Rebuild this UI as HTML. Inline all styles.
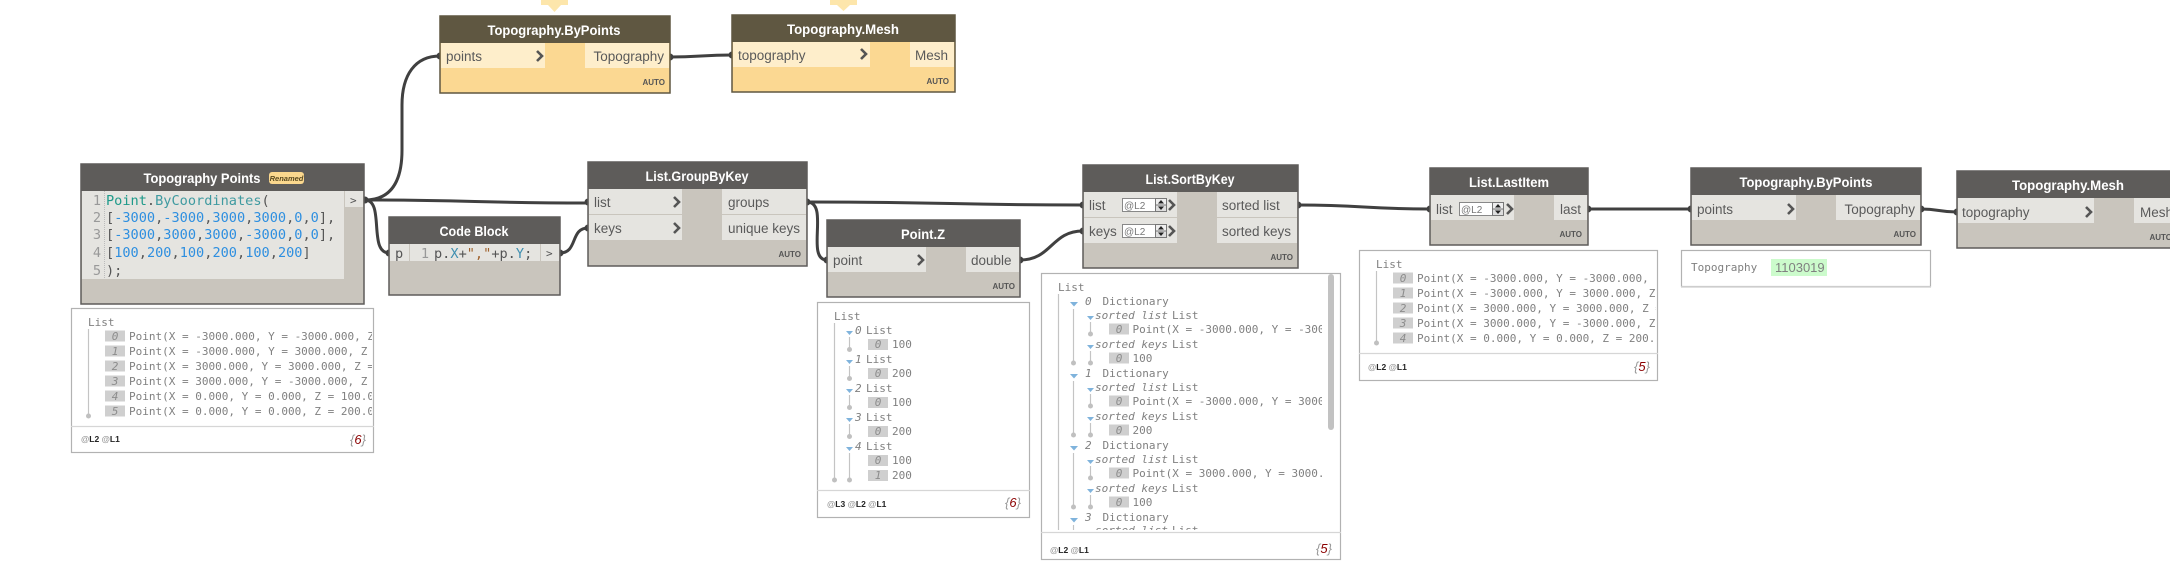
<!DOCTYPE html>
<html>
<head>
<meta charset="utf-8">
<style>
html,body{margin:0;padding:0;background:#fff;width:2170px;height:588px;overflow:hidden}
svg{display:block}
text{white-space:pre}
.t{font:bold 14px "Liberation Sans",sans-serif;fill:#fff;text-anchor:middle}
.p{font:13.5px "Liberation Sans",sans-serif;fill:#5a5a5a}
.a{font:bold 8px "Liberation Sans",sans-serif;fill:#555;text-anchor:end}
.c{font:13.6px "DejaVu Sans Mono",monospace;fill:#555}
.ln{font:13.6px "DejaVu Sans Mono",monospace;fill:#999;text-anchor:end}
.m{font:11px "DejaVu Sans Mono",monospace;fill:#808080}
.i{font:italic 11px "DejaVu Sans Mono",monospace;fill:#8c8c8c;text-anchor:middle}
.si{font:italic 11px "DejaVu Sans Mono",monospace;fill:#808080}
.l{font:bold 8.5px "Liberation Sans",sans-serif;fill:#222}
.l tspan{fill:#999}
.n{font:italic 13px "Liberation Sans",sans-serif;fill:#999}
.n tspan{fill:#8b0000}
.b{fill:#cfcfcf}
.w{fill:none;stroke:#404040;stroke-width:3}
.ch{fill:none;stroke:#555;stroke-width:2.6}
.pv{fill:#fff;stroke:#b2b2b2;stroke-width:1.2}
.dv{stroke:#d6d6d6;stroke-width:1.2}
.tl{stroke:#c4c4c4;stroke-width:1.2}
.d{fill:#c0c0c0}
.tr{fill:#7fb3dc}
.body{fill:#c9c5bd;stroke:#5e5c5a;stroke-width:1.5}
.hd{fill:#5e5c5a}
.row{fill:#e5e4e0}
.ybody{fill:#fbd892;stroke:#5f5741;stroke-width:1.5}
.yhd{fill:#5f5741}
.yrow{fill:#feeecb}
.port{fill:#404040}
.sp{font:10px "Liberation Sans",sans-serif;fill:#777}
</style>
</head>
<body>
<svg width="2170" height="588" viewBox="0 0 2170 588" xmlns="http://www.w3.org/2000/svg">
<defs>
<clipPath id="c1"><rect x="72" y="309" width="300" height="116"/></clipPath>
<clipPath id="c2"><rect x="1042" y="274" width="280" height="256"/></clipPath>
<clipPath id="c3"><rect x="1360" y="251" width="296" height="101"/></clipPath>
</defs>

<!-- warning tips -->
<polygon points="541,0 568,0 568,5 561,5 554.500,12 548,5 541,5" fill="#fde6ab"/>
<polygon points="830,0 857,0 857,5 850,5 843.500,11 837,5 830,5" fill="#fde6ab"/>

<!-- wires -->
<path class="w" d="M365 200C392 200 402 180 402 150L402 105C402 75 415 56 440 56"/>
<path class="w" d="M365 200C470 200 480 203 588 203"/>
<path class="w" d="M365 200C385 200 368 253 389 253"/>
<path class="w" d="M560 253C578 253 570 228 588 228"/>
<path class="w" d="M670 57C700 57 702 55 732 55"/>
<path class="w" d="M807 202C950 202 950 205 1083 205"/>
<path class="w" d="M807 202C830 202 805 260 827 260"/>
<path class="w" d="M1020 260C1052 260 1051 231 1083 231"/>
<path class="w" d="M1298 205C1364 205 1364 209 1430 209"/>
<path class="w" d="M1588 209H1691"/>
<path class="w" d="M1921 209C1939 209 1939 212 1957 212"/>

<!-- ports -->
<g class="port">
<circle cx="365" cy="200" r="3.5"/><circle cx="389" cy="253" r="3.5"/><circle cx="560" cy="253" r="3.5"/>
<circle cx="440" cy="56" r="3.5"/><circle cx="670" cy="57" r="3.5"/><circle cx="732" cy="55" r="3.5"/>
<circle cx="588" cy="202" r="3.5"/><circle cx="588" cy="228" r="3.5"/><circle cx="807" cy="202" r="3.5"/>
<circle cx="827" cy="260" r="3.5"/><circle cx="1020" cy="260" r="3.5"/>
<circle cx="1083" cy="205" r="3.5"/><circle cx="1083" cy="231" r="3.5"/><circle cx="1298" cy="205" r="3.5"/>
<circle cx="1430" cy="209" r="3.5"/><circle cx="1588" cy="209" r="3.5"/><circle cx="1691" cy="209" r="3.5"/>
<circle cx="1921" cy="209" r="3.5"/><circle cx="1957" cy="212" r="3.5"/>
</g>

<!-- Topography.ByPoints yellow -->
<rect class="ybody" x="440" y="16" width="230" height="77"/>
<rect class="yhd" x="440" y="16" width="230" height="27"/>
<rect class="yrow" x="441" y="43" width="104" height="25"/>
<rect class="yrow" x="585" y="43" width="84" height="25"/>
<text class="t" x="554" y="35" textLength="133" lengthAdjust="spacingAndGlyphs">Topography.ByPoints</text>
<text class="p" x="446" y="61">points</text>
<polyline class="ch" points="537,51 542,56 537,61"/>
<text class="p" x="664" y="61" text-anchor="end">Topography</text>
<text class="a" x="665" y="85">AUTO</text>

<!-- Topography.Mesh yellow -->
<rect class="ybody" x="732" y="15" width="223" height="77"/>
<rect class="yhd" x="732" y="15" width="223" height="27"/>
<rect class="yrow" x="733" y="42" width="137" height="25"/>
<rect class="yrow" x="910" y="42" width="44" height="25"/>
<text class="t" x="843" y="34" textLength="112" lengthAdjust="spacingAndGlyphs">Topography.Mesh</text>
<text class="p" x="738" y="60">topography</text>
<polyline class="ch" points="861,49 866,54 861,59"/>
<text class="p" x="948" y="60" text-anchor="end">Mesh</text>
<text class="a" x="949" y="84">AUTO</text>

<!-- Topography Points -->
<rect class="body" x="81" y="164" width="283" height="140"/>
<rect class="hd" x="81" y="164" width="283" height="27"/>
<rect class="row" x="82" y="191" width="262" height="88"/>
<rect class="row" x="345" y="191" width="18" height="16"/>
<line x1="104.500" y1="191" x2="104.500" y2="279" stroke="#bbb" stroke-dasharray="1 1"/>
<text class="t" x="202" y="183" textLength="117" lengthAdjust="spacingAndGlyphs">Topography Points</text>
<rect x="269" y="172" width="35" height="12" rx="3" fill="#fbd88e"/>
<text x="286.500" y="181" text-anchor="middle" font-family="Liberation Sans,sans-serif" font-size="7.5" font-weight="bold" font-style="italic" fill="#5a4a20">Renamed</text>
<text class="ln" x="101" y="205">1</text><text class="ln" x="101" y="222">2</text><text class="ln" x="101" y="239">3</text><text class="ln" x="101" y="257">4</text><text class="ln" x="101" y="275">5</text>
<text class="c" x="106" y="205"><tspan fill="#1f9a8a">Point</tspan>.<tspan fill="#3f9aa0">ByCoordinates</tspan>(</text>
<text class="c" x="106" y="222">[<tspan fill="#2e8fe0">-3000</tspan>,<tspan fill="#2e8fe0">-3000</tspan>,<tspan fill="#2e8fe0">3000</tspan>,<tspan fill="#2e8fe0">3000</tspan>,<tspan fill="#2e8fe0">0</tspan>,<tspan fill="#2e8fe0">0</tspan>],</text>
<text class="c" x="106" y="239">[<tspan fill="#2e8fe0">-3000</tspan>,<tspan fill="#2e8fe0">3000</tspan>,<tspan fill="#2e8fe0">3000</tspan>,<tspan fill="#2e8fe0">-3000</tspan>,<tspan fill="#2e8fe0">0</tspan>,<tspan fill="#2e8fe0">0</tspan>],</text>
<text class="c" x="106" y="257">[<tspan fill="#2e8fe0">100</tspan>,<tspan fill="#2e8fe0">200</tspan>,<tspan fill="#2e8fe0">100</tspan>,<tspan fill="#2e8fe0">200</tspan>,<tspan fill="#2e8fe0">100</tspan>,<tspan fill="#2e8fe0">200</tspan>]</text>
<text class="c" x="106" y="275">);</text>
<text class="c" x="350" y="204" style="font-size:11px">&gt;</text>

<!-- Preview 1 -->
<rect class="pv" x="71.500" y="308.500" width="302" height="144"/>
<line class="dv" x1="71" y1="426.500" x2="374" y2="426.500"/>
<text class="m" x="88" y="326">List</text>
<line class="tl" x1="88.500" y1="329" x2="88.500" y2="416"/><circle class="d" cx="88.500" cy="416" r="2.500"/>
<g clip-path="url(#c1)">
<rect class="b" x="105" y="330.500" width="20" height="11"/><text class="i" x="115" y="340">0</text><text class="m" x="129" y="340">Point(X = -3000.000, Y = -3000.000, Z = 100.000)</text>
<rect class="b" x="105" y="345.500" width="20" height="11"/><text class="i" x="115" y="355">1</text><text class="m" x="129" y="355">Point(X = -3000.000, Y = 3000.000, Z = 200.000)</text>
<rect class="b" x="105" y="360.500" width="20" height="11"/><text class="i" x="115" y="370">2</text><text class="m" x="129" y="370">Point(X = 3000.000, Y = 3000.000, Z = 100.000)</text>
<rect class="b" x="105" y="375.500" width="20" height="11"/><text class="i" x="115" y="385">3</text><text class="m" x="129" y="385">Point(X = 3000.000, Y = -3000.000, Z = 200.000)</text>
<rect class="b" x="105" y="390.500" width="20" height="11"/><text class="i" x="115" y="400">4</text><text class="m" x="129" y="400">Point(X = 0.000, Y = 0.000, Z = 100.000)</text>
<rect class="b" x="105" y="405.500" width="20" height="11"/><text class="i" x="115" y="415">5</text><text class="m" x="129" y="415">Point(X = 0.000, Y = 0.000, Z = 200.000)</text>
</g>
<text class="l" x="81" y="442"><tspan>@</tspan>L2 <tspan>@</tspan>L1</text>
<text class="n" x="350" y="444">{<tspan>6</tspan>}</text>

<!-- Code Block -->
<rect class="body" x="389" y="217" width="171" height="78"/>
<rect class="hd" x="389" y="217" width="171" height="27"/>
<rect class="row" x="390" y="244" width="19" height="17"/>
<rect class="row" x="410" y="244" width="130" height="17"/>
<rect class="row" x="541" y="244" width="18" height="17"/>
<text class="t" x="474" y="236" textLength="69" lengthAdjust="spacingAndGlyphs">Code Block</text>
<text class="c" x="395" y="258">p</text>
<text class="ln" x="429" y="258">1</text>
<text class="c" x="434" y="258">p.<tspan fill="#3f8fb0">X</tspan>+<tspan fill="#a0622d">","</tspan>+p.<tspan fill="#3f8fb0">Y</tspan>;</text>
<text class="c" x="546" y="257" style="font-size:11px">&gt;</text>

<!-- List.GroupByKey -->
<rect class="body" x="588" y="162" width="219" height="104"/>
<rect class="hd" x="588" y="162" width="219" height="27"/>
<rect class="row" x="589" y="189" width="93" height="25"/>
<rect class="row" x="589" y="215" width="93" height="25"/>
<rect class="row" x="722" y="189" width="84" height="25"/>
<rect class="row" x="722" y="215" width="84" height="25"/>
<text class="t" x="697" y="181" textLength="103" lengthAdjust="spacingAndGlyphs">List.GroupByKey</text>
<text class="p" x="594" y="207">list</text><text class="p" x="594" y="233">keys</text>
<polyline class="ch" points="674,197 679,202 674,207"/><polyline class="ch" points="674,223 679,228 674,233"/>
<text class="p" x="728" y="207">groups</text><text class="p" x="728" y="233">unique keys</text>
<text class="a" x="801" y="257">AUTO</text>

<!-- Point.Z -->
<rect class="body" x="827" y="220" width="193" height="77"/>
<rect class="hd" x="827" y="220" width="193" height="27"/>
<rect class="row" x="828" y="247" width="98" height="25"/>
<rect class="row" x="966" y="247" width="53" height="25"/>
<text class="t" x="923" y="239" textLength="44" lengthAdjust="spacingAndGlyphs">Point.Z</text>
<text class="p" x="833" y="265">point</text>
<polyline class="ch" points="918,255 923,260 918,265"/>
<text class="p" x="971" y="265">double</text>
<text class="a" x="1015" y="289">AUTO</text>

<!-- Preview 2 -->
<rect class="pv" x="817.500" y="302.500" width="212" height="215"/>
<line class="dv" x1="817" y1="490.500" x2="1030" y2="490.500"/>
<text class="m" x="834" y="320">List</text>
<line class="tl" x1="834.500" y1="323" x2="834.500" y2="480"/><circle class="d" cx="834.500" cy="480" r="2.500"/>
<g class="tr"><polygon points="846,331 853,331 849.500,335"/><polygon points="846,360 853,360 849.500,364"/><polygon points="846,389 853,389 849.500,393"/><polygon points="846,418 853,418 849.500,422"/><polygon points="846,447 853,447 849.500,451"/></g>
<line class="tl" x1="849.500" y1="337" x2="849.500" y2="349"/><circle class="d" cx="849.500" cy="349.500" r="2.500"/>
<line class="tl" x1="849.500" y1="366" x2="849.500" y2="378"/><circle class="d" cx="849.500" cy="378.500" r="2.500"/>
<line class="tl" x1="849.500" y1="395" x2="849.500" y2="407"/><circle class="d" cx="849.500" cy="407.500" r="2.500"/>
<line class="tl" x1="849.500" y1="424" x2="849.500" y2="436"/><circle class="d" cx="849.500" cy="436.500" r="2.500"/>
<line class="tl" x1="849.500" y1="453" x2="849.500" y2="480"/><circle class="d" cx="849.500" cy="480" r="2.500"/>
<text class="si" x="855" y="334">0</text><text class="m" x="866" y="334">List</text>
<rect class="b" x="868" y="339" width="20" height="11"/><text class="i" x="878" y="348">0</text><text class="m" x="892" y="348">100</text>
<text class="si" x="855" y="363">1</text><text class="m" x="866" y="363">List</text>
<rect class="b" x="868" y="368" width="20" height="11"/><text class="i" x="878" y="377">0</text><text class="m" x="892" y="377">200</text>
<text class="si" x="855" y="392">2</text><text class="m" x="866" y="392">List</text>
<rect class="b" x="868" y="397" width="20" height="11"/><text class="i" x="878" y="406">0</text><text class="m" x="892" y="406">100</text>
<text class="si" x="855" y="421">3</text><text class="m" x="866" y="421">List</text>
<rect class="b" x="868" y="426" width="20" height="11"/><text class="i" x="878" y="435">0</text><text class="m" x="892" y="435">200</text>
<text class="si" x="855" y="450">4</text><text class="m" x="866" y="450">List</text>
<rect class="b" x="868" y="455" width="20" height="11"/><text class="i" x="878" y="464">0</text><text class="m" x="892" y="464">100</text>
<rect class="b" x="868" y="470" width="20" height="11"/><text class="i" x="878" y="479">1</text><text class="m" x="892" y="479">200</text>
<text class="l" x="827" y="507"><tspan>@</tspan>L3 <tspan>@</tspan>L2 <tspan>@</tspan>L1</text>
<text class="n" x="1005" y="507">{<tspan>6</tspan>}</text>

<!-- List.SortByKey -->
<rect class="body" x="1083" y="165" width="215" height="103"/>
<rect class="hd" x="1083" y="165" width="215" height="27"/>
<rect class="row" x="1084" y="192" width="93" height="25"/>
<rect class="row" x="1084" y="218" width="93" height="25"/>
<rect class="row" x="1217" y="192" width="80" height="25"/>
<rect class="row" x="1217" y="218" width="80" height="25"/>
<text class="t" x="1190" y="184" textLength="89" lengthAdjust="spacingAndGlyphs">List.SortByKey</text>
<text class="p" x="1089" y="210">list</text><text class="p" x="1089" y="236">keys</text>
<rect x="1122.500" y="198.500" width="33" height="13" fill="#fff" stroke="#888"/><text class="sp" x="1124" y="209">@L2</text>
<rect x="1155.500" y="198.500" width="11" height="6.500" fill="#eee" stroke="#777"/><rect x="1155.500" y="205" width="11" height="6.500" fill="#ddd" stroke="#777"/>
<polygon points="1158,203.500 1164,203.500 1161,200" fill="#222"/><polygon points="1158,206.500 1164,206.500 1161,210" fill="#222"/>
<rect x="1122.500" y="224.500" width="33" height="13" fill="#fff" stroke="#888"/><text class="sp" x="1124" y="235">@L2</text>
<rect x="1155.500" y="224.500" width="11" height="6.500" fill="#eee" stroke="#777"/><rect x="1155.500" y="231" width="11" height="6.500" fill="#ddd" stroke="#777"/>
<polygon points="1158,229.500 1164,229.500 1161,226" fill="#222"/><polygon points="1158,232.500 1164,232.500 1161,236" fill="#222"/>
<polyline class="ch" points="1169,200 1174,205 1169,210"/><polyline class="ch" points="1169,226 1174,231 1169,236"/>
<text class="p" x="1222" y="210">sorted list</text><text class="p" x="1222" y="236">sorted keys</text>
<text class="a" x="1293" y="260">AUTO</text>

<!-- Preview 3 (sort) -->
<rect class="pv" x="1041.500" y="273.500" width="299" height="286"/>
<line class="dv" x1="1041" y1="532.500" x2="1341" y2="532.500"/>
<rect x="1328" y="274" width="6" height="156" rx="3" fill="#c2c2c2"/>
<text class="m" x="1058" y="291">List</text>
<g clip-path="url(#c2)">
<line class="tl" x1="1058.500" y1="294" x2="1058.500" y2="530"/>
<line class="tl" x1="1073.500" y1="309" x2="1073.500" y2="363"/><circle class="d" cx="1073.500" cy="363" r="2.500"/>
<line class="tl" x1="1073.500" y1="381" x2="1073.500" y2="435"/><circle class="d" cx="1073.500" cy="435" r="2.500"/>
<line class="tl" x1="1073.500" y1="453" x2="1073.500" y2="507"/><circle class="d" cx="1073.500" cy="507" r="2.500"/>
<line class="tl" x1="1073.500" y1="525" x2="1073.500" y2="530"/>
<line class="tl" x1="1090.500" y1="322" x2="1090.500" y2="334"/><circle class="d" cx="1090.500" cy="334" r="2.500"/>
<line class="tl" x1="1090.500" y1="351" x2="1090.500" y2="363"/><circle class="d" cx="1090.500" cy="363" r="2.500"/>
<line class="tl" x1="1090.500" y1="394" x2="1090.500" y2="406"/><circle class="d" cx="1090.500" cy="406" r="2.500"/>
<line class="tl" x1="1090.500" y1="423" x2="1090.500" y2="435"/><circle class="d" cx="1090.500" cy="435" r="2.500"/>
<line class="tl" x1="1090.500" y1="466" x2="1090.500" y2="478"/><circle class="d" cx="1090.500" cy="478" r="2.500"/>
<line class="tl" x1="1090.500" y1="495" x2="1090.500" y2="507"/><circle class="d" cx="1090.500" cy="507" r="2.500"/>
<g class="tr">
<polygon points="1070,302 1078,302 1074,306.500"/><polygon points="1070,374 1078,374 1074,378.500"/><polygon points="1070,446 1078,446 1074,450.500"/><polygon points="1070,518 1078,518 1074,522.500"/>
<polygon points="1087,316 1094,316 1090.500,320"/><polygon points="1087,345 1094,345 1090.500,349"/><polygon points="1087,388 1094,388 1090.500,392"/><polygon points="1087,417 1094,417 1090.500,421"/><polygon points="1087,460 1094,460 1090.500,464"/><polygon points="1087,489 1094,489 1090.500,493"/>
</g>
<text class="si" x="1085" y="305">0</text><text class="m" x="1102.500" y="305">Dictionary</text>
<text class="si" x="1095" y="319">sorted list</text><text class="m" x="1172" y="319">List</text>
<rect class="b" x="1109" y="323.500" width="20" height="11"/><text class="i" x="1119" y="333">0</text><text class="m" x="1132.500" y="333">Point(X = -3000.000, Y = -3000.000, Z = 100.000)</text>
<text class="si" x="1095" y="348">sorted keys</text><text class="m" x="1172" y="348">List</text>
<rect class="b" x="1109" y="352.500" width="20" height="11"/><text class="i" x="1119" y="362">0</text><text class="m" x="1132.500" y="362">100</text>
<text class="si" x="1085" y="377">1</text><text class="m" x="1102.500" y="377">Dictionary</text>
<text class="si" x="1095" y="391">sorted list</text><text class="m" x="1172" y="391">List</text>
<rect class="b" x="1109" y="395.500" width="20" height="11"/><text class="i" x="1119" y="405">0</text><text class="m" x="1132.500" y="405">Point(X = -3000.000, Y = 3000.000, Z = 200.000)</text>
<text class="si" x="1095" y="420">sorted keys</text><text class="m" x="1172" y="420">List</text>
<rect class="b" x="1109" y="424.500" width="20" height="11"/><text class="i" x="1119" y="434">0</text><text class="m" x="1132.500" y="434">200</text>
<text class="si" x="1085" y="449">2</text><text class="m" x="1102.500" y="449">Dictionary</text>
<text class="si" x="1095" y="463">sorted list</text><text class="m" x="1172" y="463">List</text>
<rect class="b" x="1109" y="467.500" width="20" height="11"/><text class="i" x="1119" y="477">0</text><text class="m" x="1132.500" y="477">Point(X = 3000.000, Y = 3000.000, Z = 100.000)</text>
<text class="si" x="1095" y="492">sorted keys</text><text class="m" x="1172" y="492">List</text>
<rect class="b" x="1109" y="496.500" width="20" height="11"/><text class="i" x="1119" y="506">0</text><text class="m" x="1132.500" y="506">100</text>
<text class="si" x="1085" y="521">3</text><text class="m" x="1102.500" y="521">Dictionary</text>
<text class="si" x="1095" y="534">sorted list</text><text class="m" x="1172" y="534">List</text>
</g>
<text class="l" x="1050" y="553"><tspan>@</tspan>L2 <tspan>@</tspan>L1</text>
<text class="n" x="1316" y="553">{<tspan>5</tspan>}</text>

<!-- List.LastItem -->
<rect class="body" x="1430" y="168" width="158" height="77"/>
<rect class="hd" x="1430" y="168" width="158" height="27"/>
<rect class="row" x="1431" y="195" width="83" height="25"/>
<rect class="row" x="1554" y="195" width="33" height="25"/>
<text class="t" x="1509" y="187" textLength="80" lengthAdjust="spacingAndGlyphs">List.LastItem</text>
<text class="p" x="1436" y="214">list</text>
<rect x="1459.500" y="202.500" width="33" height="13" fill="#fff" stroke="#888"/><text class="sp" x="1461" y="213">@L2</text>
<rect x="1492.500" y="202.500" width="11" height="6.500" fill="#eee" stroke="#777"/><rect x="1492.500" y="209" width="11" height="6.500" fill="#ddd" stroke="#777"/>
<polygon points="1495,207.500 1501,207.500 1498,204" fill="#222"/><polygon points="1495,210.500 1501,210.500 1498,214" fill="#222"/>
<polyline class="ch" points="1507,204 1512,209 1507,214"/>
<text class="p" x="1581" y="214" text-anchor="end">last</text>
<text class="a" x="1582" y="237">AUTO</text>

<!-- Preview 4 -->
<rect class="pv" x="1359.500" y="250.500" width="298" height="130"/>
<line class="dv" x1="1359" y1="353.500" x2="1658" y2="353.500"/>
<text class="m" x="1376" y="268">List</text>
<line class="tl" x1="1376.500" y1="271" x2="1376.500" y2="343"/><circle class="d" cx="1376.500" cy="343" r="2.500"/>
<g clip-path="url(#c3)">
<rect class="b" x="1393" y="272.500" width="20" height="11"/><text class="i" x="1403" y="282">0</text><text class="m" x="1417" y="282">Point(X = -3000.000, Y = -3000.000, Z = 100.000)</text>
<rect class="b" x="1393" y="287.500" width="20" height="11"/><text class="i" x="1403" y="297">1</text><text class="m" x="1417" y="297">Point(X = -3000.000, Y = 3000.000, Z = 200.000)</text>
<rect class="b" x="1393" y="302.500" width="20" height="11"/><text class="i" x="1403" y="312">2</text><text class="m" x="1417" y="312">Point(X = 3000.000, Y = 3000.000, Z = 100.000)</text>
<rect class="b" x="1393" y="317.500" width="20" height="11"/><text class="i" x="1403" y="327">3</text><text class="m" x="1417" y="327">Point(X = 3000.000, Y = -3000.000, Z = 200.000)</text>
<rect class="b" x="1393" y="332.500" width="20" height="11"/><text class="i" x="1403" y="342">4</text><text class="m" x="1417" y="342">Point(X = 0.000, Y = 0.000, Z = 200.000)</text>
</g>
<text class="l" x="1368" y="370"><tspan>@</tspan>L2 <tspan>@</tspan>L1</text>
<text class="n" x="1634" y="371">{<tspan>5</tspan>}</text>

<!-- Topography.ByPoints 2 -->
<rect class="body" x="1691" y="168" width="230" height="77"/>
<rect class="hd" x="1691" y="168" width="230" height="27"/>
<rect class="row" x="1692" y="195" width="104" height="25"/>
<rect class="row" x="1836" y="195" width="84" height="25"/>
<text class="t" x="1806" y="187" textLength="133" lengthAdjust="spacingAndGlyphs">Topography.ByPoints</text>
<text class="p" x="1697" y="214">points</text>
<polyline class="ch" points="1788,204 1793,209 1788,214"/>
<text class="p" x="1915" y="214" text-anchor="end">Topography</text>
<text class="a" x="1916" y="237">AUTO</text>

<!-- Preview 5 -->
<rect class="pv" x="1681.500" y="250.500" width="249" height="36"/>
<line x1="1681" y1="287" x2="1931" y2="287" stroke="#d6d6d6" stroke-width="1.500"/>
<text class="m" x="1691" y="271">Topography</text>
<rect x="1771" y="259" width="56" height="17" fill="#ccfbcc"/>
<text x="1775" y="272" font-family="Liberation Sans,sans-serif" font-size="13" fill="#808080">1103019</text>

<!-- Topography.Mesh 2 -->
<rect class="body" x="1957" y="171" width="230" height="77"/>
<rect class="hd" x="1957" y="171" width="230" height="27"/>
<rect class="row" x="1958" y="198" width="136" height="25"/>
<rect class="row" x="2134" y="198" width="44" height="25"/>
<text class="t" x="2068" y="190" textLength="112" lengthAdjust="spacingAndGlyphs">Topography.Mesh</text>
<text class="p" x="1962" y="217">topography</text>
<polyline class="ch" points="2086,207 2091,212 2086,217"/>
<text class="p" x="2140" y="217">Mesh</text>
<text class="a" x="2172" y="240">AUTO</text>
</svg>
</body>
</html>
